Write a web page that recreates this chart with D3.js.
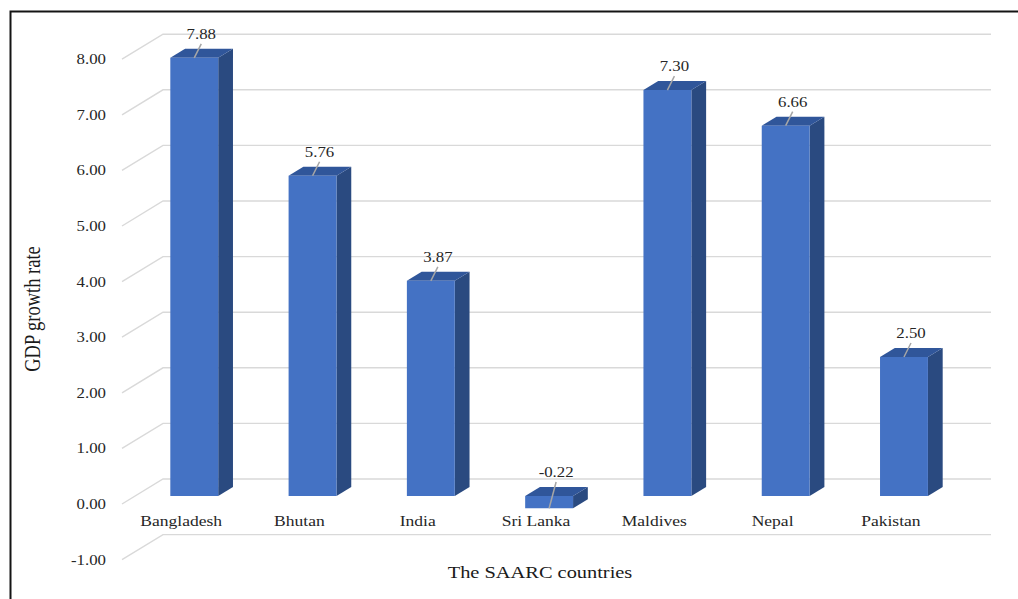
<!DOCTYPE html>
<html>
<head>
<meta charset="utf-8">
<script src="https://cdn.jsdelivr.net/npm/d3@7"></script>
<style>
  html, body { margin: 0; padding: 0; background: #ffffff; }
  svg { display: block; }
  text { font-family: "Liberation Serif", "Times New Roman", serif; }
</style>
</head>
<body>
<svg id="chart" width="1018" height="599"></svg>
<script>
// ---- data ----
const categories = ["Bangladesh", "Bhutan", "India", "Sri Lanka", "Maldives", "Nepal", "Pakistan"];
const gdpGrowth = [7.88, 5.76, 3.87, -0.22, 7.30, 6.66, 2.50];
const yTicks = [-1, 0, 1, 2, 3, 4, 5, 6, 7, 8];
const xTitle = "The SAARC countries";
const yTitle = "GDP growth rate";

// ---- layout ----
const W = 1018, H = 599;
const depthX = 41, depthY = -25;      // 3D depth offset of the floor/wall
const barT0 = 0.32, barT1 = 0.68;     // bar depth range (fraction of depth)
const barFrac = 0.405;                // bar width / category band
const sx = 1.2;                       // horizontal stretch of text

const svg = d3.select("#chart");

const x = d3.scaleBand().domain(categories).range([122, 950]).paddingInner(0).paddingOuter(0);
const y = d3.scaleLinear().domain([-1, 8]).range([559.6, 59.2]);

const P = (px, v, t) => [px + depthX * t, y(v) + depthY * t];

// frame
svg.append("path")
  .attr("d", `M10.5,${H + 5} L10.5,11.5 L${W + 5},11.5`)
  .attr("fill", "none").attr("stroke", "#141414").attr("stroke-width", 2);

// gridlines (side wall diagonal + back wall horizontal)
const grid = svg.append("g").attr("stroke", "#d9d9d9").attr("stroke-width", 1.4).attr("fill", "none");
yTicks.forEach(v => {
  const a = P(x.range()[0], v, 0), b = P(x.range()[0], v, 1), c = P(x.range()[1], v, 1);
  grid.append("path").attr("d", `M${a[0]},${a[1]} L${b[0]},${b[1]} L${c[0]},${c[1]}`);
});

// y tick labels
const fmt = v => d3.format(".2f")(v).replace("\u2212", "-");
yTicks.forEach(v => {
  svg.append("text")
    .attr("transform", `translate(106,${y(v) + 5}) scale(${sx},1)`)
    .attr("text-anchor", "end")
    .attr("font-size", 14)
    .attr("fill", "#262626")
    .text(fmt(v));
});

// bars
const data = categories.map((c, i) => ({ c, v: gdpGrowth[i] }));
const bw = x.bandwidth() * barFrac;
const poly = pts => "M" + pts.map(p => p.join(",")).join("L") + "Z";

const bars = svg.append("g");
data.forEach(d => {
  const xl = x(d.c) + (x.bandwidth() - bw) / 2;
  const xr = xl + bw;
  const top = Math.max(d.v, 0), bot = Math.min(d.v, 0);
  // side face
  bars.append("path")
    .attr("d", poly([P(xr, bot, barT0), P(xr, top, barT0), P(xr, top, barT1), P(xr, bot, barT1)]))
    .attr("fill", "#2a4a80");
  // top face
  bars.append("path")
    .attr("d", poly([P(xl, top, barT0), P(xr, top, barT0), P(xr, top, barT1), P(xl, top, barT1)]))
    .attr("fill", "#30569a");
  // front face
  bars.append("path")
    .attr("d", poly([P(xl, bot, barT0), P(xr, bot, barT0), P(xr, top, barT0), P(xl, top, barT0)]))
    .attr("fill", "#4472c4");
});

// data labels with leader lines
data.forEach(d => {
  const xl = x(d.c) + (x.bandwidth() - bw) / 2;
  const cx = xl + bw / 2 + depthX * barT0;
  const vy = y(d.v) + depthY * barT0;
  const baseY = y(Math.max(d.v, 0)) + depthY * barT0 - 19;
  const lx = cx + 7;
  svg.append("line")
    .attr("x1", cx).attr("y1", vy)
    .attr("x2", lx).attr("y2", baseY + 5)
    .attr("stroke", "#a6a6a6").attr("stroke-width", 1.5);
  svg.append("text")
    .attr("transform", `translate(${lx},${baseY}) scale(${sx},1)`)
    .attr("text-anchor", "middle")
    .attr("font-size", 14)
    .attr("fill", "#262626")
    .text(fmt(d.v));
});

// category labels
categories.forEach(c => {
  svg.append("text")
    .attr("transform", `translate(${x(c) + x.bandwidth() / 2},526) scale(1.17,1)`)
    .attr("text-anchor", "middle")
    .attr("font-size", 15)
    .attr("fill", "#262626")
    .text(c);
});

// axis titles
svg.append("text")
  .attr("transform", `translate(540,578) scale(${sx},1)`)
  .attr("text-anchor", "middle")
  .attr("font-size", 17)
  .attr("fill", "#1a1a1a")
  .text(xTitle);

svg.append("text")
  .attr("transform", `translate(40,309) scale(${sx},1) rotate(-90)`)
  .attr("text-anchor", "middle")
  .attr("font-size", 18.5)
  .attr("fill", "#1a1a1a")
  .text(yTitle);
</script>
</body>
</html>
